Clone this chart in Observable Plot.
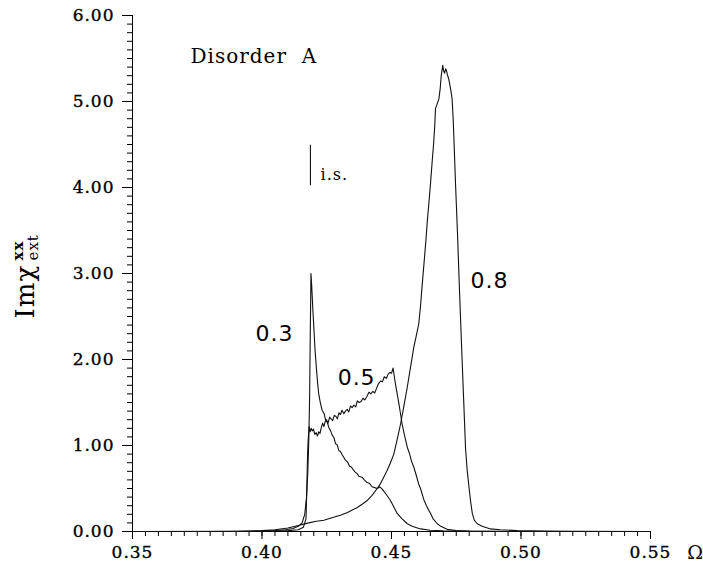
<!DOCTYPE html>
<html><head><meta charset="utf-8">
<script src="https://cdn.jsdelivr.net/npm/d3@7"></script>
<script src="https://cdn.jsdelivr.net/npm/@observablehq/plot@0.6"></script>
<style>
body{margin:0;background:#fff}
svg text{letter-spacing:1px}
svg g[aria-label="x-axis tick label"] text,
svg g[aria-label="y-axis tick label"] text{stroke:#000;stroke-width:0.35px}
</style>
</head><body><div id="chart"></div>
<script>
// ---- data ----
const omega03 = [0.350,0.380,0.395,0.400,0.405,0.409,0.412,0.414,0.4155,0.4165,0.4172,0.4177,0.4181,0.4184,0.4186,0.4188,0.4189,0.4192,0.4196,0.4200,0.4205,0.4210,0.4215,0.4219,0.4225,0.4232,0.4240,0.4246,0.4252,0.4258,0.4265,0.4271,0.4278,0.4284,0.4290,0.4297,0.4303,0.4310,0.4316,0.4322,0.4330,0.4338,0.4345,0.4352,0.4360,0.4368,0.4375,0.4387,0.4395,0.4405,0.4415,0.4425,0.4435,0.4445,0.4455,0.4465,0.4480,0.4496,0.4510,0.4522,0.4540,0.4561,0.4580,0.4612,0.4650,0.4700,0.4800,0.5000,0.5500];
const im03    = [0,0,0.002,0.005,0.01,0.02,0.035,0.06,0.10,0.20,0.40,0.70,1.10,1.60,2.20,2.70,3.00,2.85,2.60,2.38,2.10,1.90,1.72,1.60,1.50,1.41,1.37,1.29,1.27,1.21,1.17,1.12,1.09,1.02,1.01,0.94,0.93,0.89,0.86,0.83,0.81,0.76,0.75,0.72,0.69,0.67,0.64,0.63,0.60,0.57,0.56,0.52,0.51,0.50,0.52,0.49,0.43,0.36,0.28,0.21,0.15,0.09,0.06,0.03,0.015,0.008,0.003,0,0];

const omega05 = [0.350,0.390,0.400,0.410,0.414,0.416,0.4170,0.4173,0.4176,0.4178,0.4182,0.4186,0.4190,0.4194,0.4199,0.4204,0.4209,0.4214,0.4219,0.4224,0.4229,0.4234,0.4239,0.4244,0.4249,0.4255,0.4261,0.4267,0.4273,0.4279,0.4285,0.4291,0.4297,0.4303,0.4309,0.4316,0.4322,0.4329,0.4335,0.4342,0.4348,0.4355,0.4362,0.4368,0.4375,0.4382,0.4390,0.4397,0.4405,0.4413,0.4420,0.4428,0.4435,0.4443,0.4450,0.4458,0.4465,0.4472,0.4480,0.4487,0.4494,0.4500,0.4506,0.4510,0.4515,0.4522,0.4530,0.4541,0.4550,0.4561,0.4570,0.4578,0.4586,0.4595,0.4605,0.4612,0.4620,0.4625,0.4635,0.4645,0.4651,0.4660,0.4677,0.4690,0.4715,0.4750,0.4800,0.4900,0.5000,0.5500];
const im05    = [0,0,0.003,0.01,0.02,0.05,0.15,0.50,0.90,1.05,1.22,1.16,1.20,1.17,1.19,1.13,1.15,1.11,1.16,1.14,1.21,1.26,1.22,1.28,1.30,1.26,1.33,1.31,1.29,1.35,1.34,1.31,1.38,1.36,1.41,1.37,1.40,1.42,1.39,1.46,1.44,1.47,1.45,1.52,1.50,1.51,1.55,1.53,1.57,1.62,1.60,1.63,1.61,1.67,1.72,1.75,1.74,1.80,1.78,1.83,1.85,1.84,1.90,1.82,1.72,1.60,1.46,1.25,1.12,0.98,0.90,0.81,0.75,0.66,0.55,0.50,0.42,0.37,0.30,0.24,0.21,0.15,0.09,0.06,0.025,0.012,0.006,0.002,0,0];

const omega08 = [0.350,0.390,0.395,0.400,0.405,0.410,0.414,0.418,0.421,0.4239,0.427,0.4303,0.433,0.4368,0.4388,0.4406,0.4425,0.4445,0.4458,0.4470,0.4483,0.4496,0.4509,0.4522,0.4535,0.4548,0.4561,0.4574,0.4586,0.4596,0.4605,0.4612,0.4618,0.4625,0.4632,0.4638,0.4645,0.4651,0.4657,0.4663,0.4667,0.4670,0.4676,0.4683,0.4688,0.4692,0.4698,0.4701,0.4705,0.4709,0.4712,0.4716,0.4721,0.4728,0.4734,0.4738,0.4741,0.4747,0.4755,0.4762,0.4770,0.4778,0.4786,0.4792,0.4798,0.4805,0.4812,0.4820,0.4831,0.4850,0.4882,0.4920,0.4985,0.5100,0.5200,0.5500];
const im08    = [0,0.002,0.005,0.01,0.02,0.04,0.07,0.10,0.12,0.13,0.16,0.19,0.22,0.28,0.32,0.36,0.42,0.50,0.56,0.63,0.71,0.80,0.90,1.07,1.25,1.46,1.68,1.92,2.14,2.28,2.41,2.62,2.85,3.10,3.35,3.60,3.84,4.06,4.30,4.53,4.72,4.92,4.97,5.03,5.15,5.30,5.42,5.36,5.33,5.38,5.36,5.31,5.26,5.15,5.03,4.80,4.57,4.06,3.45,2.85,2.20,1.58,0.96,0.72,0.55,0.36,0.21,0.13,0.09,0.06,0.03,0.02,0.01,0.005,0.002,0];

const curveLabels = ["0.3","0.5","0.8"];
const curveLabelOmega = [0.3975,0.4292,0.4805];
const curveLabelIm = [2.30,1.79,2.91];

const xTicks = [0.35,0.40,0.45,0.50,0.55];
const xTickLabels = ["0.35","0.40","0.45","0.50","0.55"];
const yTicks = [0,1,2,3,4,5,6];
const yTickLabels = ["0.00","1.00","2.00","3.00","4.00","5.00","6.00"];

const titleText = "Disorder\u00a0\u00a0A";
const isLabel = "i.s.";
const isOmega = 0.4187, isLow = 4.02, isHigh = 4.49;

// ---- build ----
const rows = (xs, ys) => xs.map((x, i) => ({x, y: ys[i]}));
const xMinor = d3.range(0, 41).map(i => 0.35 + i * 0.005);
const yMinor = d3.range(0, 61).map(i => i * 0.1);
const fmt = (ticks, labels) => d => labels[ticks.findIndex(t => Math.abs(t - d) < 1e-9)];

const chart = Plot.plot({
  width: 703, height: 566,
  marginLeft: 132, marginRight: 53, marginTop: 15, marginBottom: 35,
  x: {domain: [0.35, 0.55]},
  y: {domain: [0, 6]},
  style: {fontFamily: "DejaVu Serif", background: "white", color: "black", overflow: "visible"},
  marks: [
    Plot.axisX({ticks: xMinor, tickSize: 5, text: null, label: null, strokeWidth: 1}),
    Plot.axisX({ticks: xTicks, tickSize: 8, tickPadding: 6, tickFormat: fmt(xTicks, xTickLabels), fontSize: 17, label: null}),
    Plot.axisY({ticks: yMinor, tickSize: 5, text: null, label: null}),
    Plot.axisY({ticks: yTicks, tickSize: 10, tickPadding: 8, tickFormat: fmt(yTicks, yTickLabels), fontSize: 17, label: null}),
    Plot.ruleX([0.35], {y1: 0, y2: 6, stroke: "black"}),
    Plot.ruleY([0], {x1: 0.35, x2: 0.55, stroke: "black"}),
    Plot.line(rows(omega03, im03), {x: "x", y: "y", stroke: "#111", strokeWidth: 1.1}),
    Plot.line(rows(omega05, im05), {x: "x", y: "y", stroke: "#111", strokeWidth: 1.1}),
    Plot.line(rows(omega08, im08), {x: "x", y: "y", stroke: "#111", strokeWidth: 1.1}),
    Plot.ruleX([isOmega], {y1: isLow, y2: isHigh, stroke: "#111", strokeWidth: 1.1}),
    Plot.text([isLabel], {x: 0.4226, y: 4.15, text: d => d, textAnchor: "start", lineAnchor: "middle", fontSize: 16}),
    Plot.text(curveLabels, {x: (d, i) => curveLabelOmega[i], y: (d, i) => curveLabelIm[i], text: d => d, textAnchor: "start", lineAnchor: "middle", fontSize: 22, fontFamily: "DejaVu Sans"}),
    Plot.text([titleText], {x: 0.3724, y: 5.52, text: d => d, textAnchor: "start", lineAnchor: "middle", fontSize: 20}),
    Plot.text(["Ω"], {frameAnchor: "bottom-right", dx: 45, dy: 21, text: d => d, textAnchor: "middle", lineAnchor: "middle", fontSize: 19}),
    Plot.text(["Imχ"], {frameAnchor: "left", rotate: -90, dx: -99, dy: 45, text: d => d, textAnchor: "start", lineAnchor: "bottom", fontSize: 26}),
    Plot.text(["xx"], {frameAnchor: "left", rotate: -90, dx: -110, dy: -13, text: d => d, textAnchor: "start", lineAnchor: "bottom", fontSize: 15, fontWeight: "bold"}),
    Plot.text(["ext"], {frameAnchor: "left", rotate: -90, dx: -95, dy: -13, text: d => d, textAnchor: "start", lineAnchor: "bottom", fontSize: 15})
  ]
});
document.getElementById("chart").appendChild(chart);
</script>
</body></html>
